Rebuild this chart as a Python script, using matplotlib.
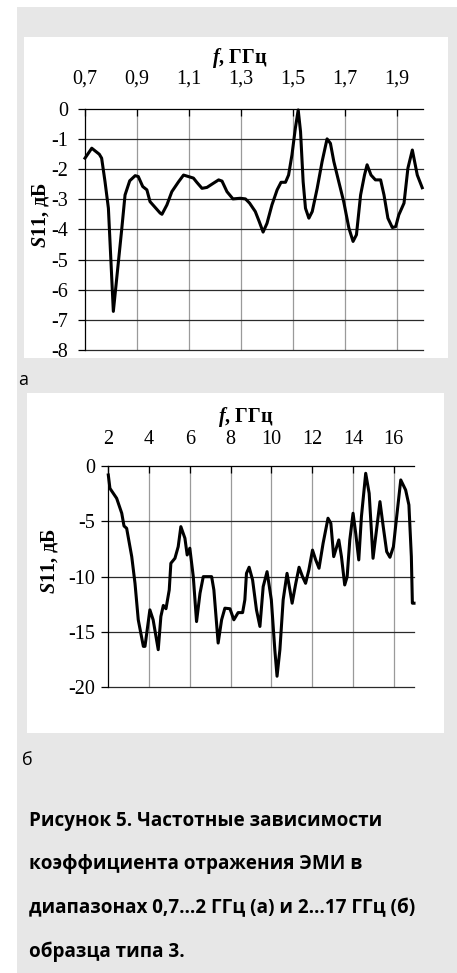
import matplotlib
matplotlib.use("Agg")
import matplotlib.pyplot as plt
from matplotlib.patches import Rectangle

plt.rcParams['axes.unicode_minus'] = False
plt.rcParams['mathtext.fontset'] = 'custom'
plt.rcParams['mathtext.rm'] = 'Liberation Serif:bold'
plt.rcParams['mathtext.it'] = 'Liberation Serif:italic:bold'
plt.rcParams['mathtext.bf'] = 'Liberation Serif:bold'

W, H = 457, 973

# --- data: panel (а), 0.7...2 GHz ---
freq_a = [0.700, 0.726, 0.755, 0.764, 0.777, 0.790, 0.809, 0.841, 0.854, 0.872,
          0.893, 0.905, 0.922, 0.938, 0.950, 0.989, 0.996, 1.015, 1.034, 1.060,
          1.079, 1.098, 1.117, 1.130, 1.150, 1.169, 1.194, 1.214, 1.227, 1.246,
          1.269, 1.297, 1.317, 1.333, 1.355, 1.370, 1.385, 1.400, 1.419, 1.439,
          1.454, 1.471, 1.483, 1.496, 1.509, 1.520, 1.529, 1.539, 1.548, 1.561,
          1.574, 1.593, 1.612, 1.631, 1.644, 1.657, 1.676, 1.695, 1.715, 1.731,
          1.744, 1.760, 1.775, 1.785, 1.800, 1.817, 1.837, 1.850, 1.865, 1.882,
          1.895, 1.907, 1.927, 1.942, 1.959, 1.978, 1.997]
s11_a = [-1.64, -1.31, -1.51, -1.64, -2.42, -3.30, -6.72, -4.02, -2.86, -2.39,
         -2.22, -2.25, -2.58, -2.69, -3.08, -3.46, -3.50, -3.19, -2.75, -2.42,
         -2.20, -2.25, -2.30, -2.44, -2.64, -2.61, -2.47, -2.36, -2.40, -2.75,
         -2.99, -2.97, -2.99, -3.13, -3.41, -3.74, -4.09, -3.80, -3.19, -2.69,
         -2.44, -2.44, -2.20, -1.53, -0.65, -0.04, -0.76, -2.42, -3.30, -3.63,
         -3.41, -2.64, -1.75, -1.00, -1.15, -1.75, -2.42, -3.08, -3.96, -4.40,
         -4.18, -2.86, -2.20, -1.86, -2.20, -2.36, -2.36, -2.86, -3.63, -3.94,
         -3.91, -3.52, -3.13, -1.97, -1.37, -2.20, -2.62]

# --- data: panel (б), 2...17 GHz ---
freq_b = [2.00, 2.08, 2.41, 2.66, 2.77, 2.90, 3.15, 3.31, 3.47, 3.72,
          3.80, 4.04, 4.20, 4.45, 4.58, 4.70, 4.83, 4.99, 5.07, 5.27,
          5.43, 5.56, 5.76, 5.87, 6.00, 6.17, 6.33, 6.50, 6.66, 7.07,
          7.18, 7.39, 7.56, 7.72, 7.97, 8.16, 8.37, 8.59, 8.70, 8.78,
          8.91, 9.08, 9.27, 9.44, 9.60, 9.79, 10.00, 10.17, 10.28, 10.42,
          10.58, 10.77, 10.91, 11.02, 11.20, 11.36, 11.53, 11.68, 11.84, 12.02,
          12.18, 12.34, 12.54, 12.78, 12.92, 13.06, 13.31, 13.44, 13.60, 13.72,
          13.85, 14.01, 14.14, 14.29, 14.42, 14.63, 14.80, 14.99, 15.16, 15.33,
          15.49, 15.66, 15.82, 15.99, 16.15, 16.35, 16.59, 16.75, 16.87, 16.92,
          17.00]
s11_b = [-0.81, -2.02, -2.92, -4.27, -5.42, -5.63, -8.19, -10.60, -13.90, -16.30,
         -16.30, -13.00, -13.90, -16.60, -13.60, -12.60, -12.90, -11.20, -8.79, -8.34,
         -7.29, -5.48, -6.53, -8.04, -7.43, -10.00, -14.06, -11.50, -10.00, -10.00,
         -11.20, -16.00, -13.90, -12.85, -12.90, -13.90, -13.25, -13.25, -12.10, -9.70,
         -9.15, -10.30, -13.00, -14.50, -10.90, -9.55, -12.10, -16.60, -19.00, -16.60,
         -12.10, -9.70, -11.20, -12.40, -10.60, -9.15, -10.00, -10.60, -9.40, -7.60,
         -8.50, -9.24, -6.98, -4.72, -5.18, -8.19, -6.68, -8.19, -10.75, -10.00,
         -6.68, -4.27, -6.08, -8.49, -4.58, -0.66, -2.47, -8.34, -5.78, -3.22,
         -5.48, -7.74, -8.25, -7.29, -4.58, -1.26, -2.17, -3.52, -8.19, -12.40,
         -12.40]

xticks_a = [0.7, 0.9, 1.1, 1.3, 1.5, 1.7, 1.9]
xlabels_a = ['0,7', '0,9', '1,1', '1,3', '1,5', '1,7', '1,9']
yticks_a = [0, -1, -2, -3, -4, -5, -6, -7, -8]
xticks_b = [2, 4, 6, 8, 10, 12, 14, 16]
yticks_b = [0, -5, -10, -15, -20]

GRAY_BG = '#e7e7e7'
SERIF = 'Liberation Serif'
SANS = 'Open Sans'
TICK_FS = 14.5


def fx(px):
    return px / W


def fy(py):
    return 1 - py / H


def rect(x0, y0, x1, y1, color):
    fig.patches.append(Rectangle((fx(x0), fy(y1)), fx(x1) - fx(x0), fy(y0) - fy(y1),
                                 transform=fig.transFigure, facecolor=color,
                                 edgecolor='none', zorder=-10))


fig = plt.figure(figsize=(W / 100, H / 100), dpi=100, facecolor='white')
rect(17, 7, W, H, GRAY_BG)
rect(24, 37, 448, 358, 'white')
rect(27, 393, 444, 733, 'white')


def panel(box, x, y, xlim, ylim, xticks, xlabels, yticks, xpad, ypad):
    left, top, right, bottom = box
    ax = fig.add_axes([fx(left), fy(bottom), fx(right) - fx(left), fy(top) - fy(bottom)])
    ax.set_facecolor('none')
    ax.set_xlim(*xlim)
    ax.set_ylim(*ylim)
    for s in ('right', 'bottom'):
        ax.spines[s].set_visible(False)
    for s in ('left', 'top'):
        ax.spines[s].set_color('black')
        ax.spines[s].set_linewidth(0.9)
    for xv in xticks[1:]:
        ax.axvline(xv, color='#9a9a9a', lw=0.9, zorder=1)
    for yv in yticks[1:]:
        ax.axhline(yv, color='#2a2a2a', lw=0.9, zorder=1, clip_on=False)
    ax.xaxis.tick_top()
    ax.set_xticks(xticks)
    ax.set_xticklabels(xlabels, fontfamily=SERIF, fontsize=TICK_FS)
    ax.set_yticks(yticks)
    ax.set_yticklabels([str(v) for v in yticks], fontfamily=SERIF, fontsize=TICK_FS)
    ax.tick_params(axis='x', direction='in', length=5, width=0.9, pad=xpad, colors='black')
    ax.tick_params(axis='y', direction='out', length=5, width=0.9, pad=ypad, colors='black')
    ax.plot(x, y, color='black', lw=2.2, solid_joinstyle='round', zorder=3, clip_on=False)
    return ax


ax_a = panel((85, 108.7, 423, 350), freq_a, s11_a, (0.7, 2.0), (-8, 0),
             xticks_a, xlabels_a, yticks_a, 14.5, 7)
ax_b = panel((108.3, 466, 414, 687.3), freq_b, s11_b, (2, 17), (-20, 0),
             xticks_b, [str(v) for v in xticks_b], yticks_b, 12, 4.5)

# axis titles
for xc, yb in ((240, 63), (246, 422)):
    fig.text(fx(xc), fy(yb), '$\\mathit{f}$, ГГц', fontfamily=SERIF, fontweight='bold',
             fontsize=TICK_FS, ha='center', va='baseline')
for xc, yc in ((40.5, 215), (50, 561)):
    fig.text(fx(xc), fy(yc), '$\\mathit{S}$11, дБ', fontfamily=SERIF, fontweight='bold',
             fontsize=TICK_FS, ha='center', va='center', rotation=90)

# panel letters
fig.text(fx(18), fy(385), 'а', fontfamily=SANS, fontsize=13, ha='left', va='baseline')
fig.text(fx(22), fy(765), 'б', fontfamily=SANS, fontsize=13, ha='left', va='baseline')

# caption
caption = ['Рисунок 5. Частотные зависимости',
           'коэффициента отражения ЭМИ в',
           'диапазонах 0,7…2 ГГц (а) и 2…17 ГГц (б)',
           'образца типа 3.']
for i, line in enumerate(caption):
    fig.text(fx(29), fy(826 + i * 43.5), line, fontfamily=SANS, fontweight='bold',
             fontsize=13.6, ha='left', va='baseline', color='black')

fig.savefig('out.png', dpi=100, facecolor=fig.get_facecolor())
